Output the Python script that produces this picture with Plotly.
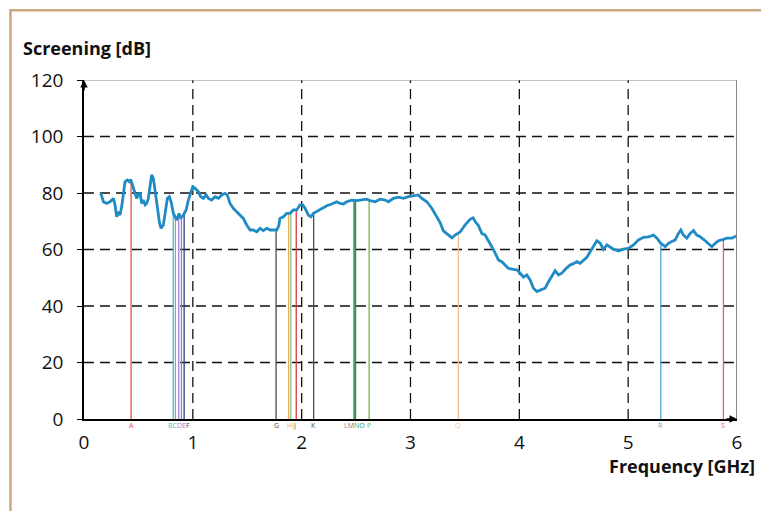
import numpy as np
import plotly.graph_objects as go

# Measured screening attenuation versus frequency
FREQ_GHZ = [
    0.147, 0.16, 0.178, 0.208, 0.239, 0.27, 0.285, 0.30, 0.315, 0.331, 0.346, 0.361,
    0.377, 0.398, 0.416, 0.429, 0.447, 0.469, 0.484, 0.499, 0.515, 0.53, 0.545, 0.561,
    0.576, 0.591, 0.607, 0.622, 0.637, 0.653, 0.674, 0.692, 0.708, 0.729, 0.744, 0.766,
    0.784, 0.80, 0.821, 0.852, 0.873, 0.888, 0.913, 0.938, 0.959, 0.98, 0.999, 1.02,
    1.05, 1.072, 1.097, 1.121, 1.143, 1.173, 1.204, 1.235, 1.265, 1.296, 1.317, 1.342,
    1.372, 1.403, 1.434, 1.464, 1.495, 1.526, 1.556, 1.587, 1.618, 1.648, 1.679, 1.71,
    1.74, 1.771, 1.79, 1.80, 1.832, 1.863, 1.893, 1.924, 1.955, 1.985, 2.01, 2.031,
    2.062, 2.084, 2.108, 2.14, 2.185, 2.231, 2.277, 2.322, 2.353, 2.383, 2.414, 2.46,
    2.506, 2.552, 2.598, 2.629, 2.675, 2.72, 2.767, 2.797, 2.843, 2.889, 2.935, 2.98,
    3.027, 3.073, 3.104, 3.15, 3.196, 3.242, 3.272, 3.302, 3.348, 3.382, 3.41, 3.456,
    3.502, 3.548, 3.575, 3.596, 3.624, 3.655, 3.686, 3.716, 3.747, 3.778, 3.808, 3.839,
    3.869, 3.90, 3.946, 3.983, 4.007, 4.038, 4.069, 4.099, 4.13, 4.161, 4.197, 4.237,
    4.268, 4.299, 4.329, 4.36, 4.39, 4.436, 4.467, 4.497, 4.528, 4.559, 4.589, 4.62,
    4.651, 4.681, 4.712, 4.743, 4.773, 4.804, 4.834, 4.865, 4.911, 4.957, 5.003, 5.049,
    5.095, 5.141, 5.187, 5.233, 5.264, 5.30, 5.34, 5.37, 5.401, 5.432, 5.462, 5.484,
    5.508, 5.539, 5.57, 5.60, 5.631, 5.662, 5.708, 5.738, 5.769, 5.80, 5.83, 5.876,
    5.907, 5.953, 5.993,
]
SCREENING_DB = [
    79.9, 79.3, 76.9, 76.3, 76.9, 78.1, 75.8, 71.6, 73.4, 72.2, 75.1, 78.7,
    84.0, 84.6, 84.0, 84.8, 82.8, 79.9, 78.1, 79.3, 80.2, 76.3, 77.5, 75.8,
    76.3, 78.1, 83.4, 86.4, 85.2, 79.9, 75.1, 69.8, 67.5, 68.7, 72.8, 78.1,
    78.7, 76.9, 72.8, 70.4, 72.8, 71.0, 72.2, 74.0, 77.5, 79.9, 82.2, 81.7,
    80.5, 78.7, 78.1, 79.3, 78.1, 77.5, 78.7, 78.1, 79.3, 79.9, 79.3, 76.3,
    74.6, 73.4, 72.2, 71.0, 68.7, 66.9, 66.9, 66.3, 67.5, 66.7, 67.5, 66.9,
    66.9, 66.9, 68.5, 71.0, 71.6, 72.8, 72.8, 74.0, 74.0, 75.8, 75.8, 74.6,
    72.2, 71.6, 72.8, 73.5, 74.5, 75.5, 76.1, 76.9, 76.3, 76.1, 76.9, 77.5,
    77.3, 77.5, 77.8, 77.3, 76.9, 77.8, 77.5, 76.9, 78.1, 78.5, 78.1, 78.7,
    79.1, 79.3, 78.1, 76.9, 74.6, 71.6, 69.5, 66.6, 65.1, 64.1, 65.1, 66.2,
    68.7, 70.7, 71.2, 69.8, 68.5, 65.7, 65.1, 62.8, 61.0, 58.7, 56.3, 55.7,
    54.5, 53.3, 53.0, 52.7, 51.6, 50.2, 51.0, 49.2, 46.3, 45.1, 45.7, 46.3,
    48.6, 50.4, 52.5, 51.0, 51.6, 53.5, 54.5, 55.0, 55.7, 55.1, 56.3, 57.2,
    59.2, 61.0, 63.1, 62.2, 60.0, 61.6, 61.0, 60.1, 59.5, 60.1, 60.4, 61.6,
    63.4, 64.3, 64.5, 65.1, 64.0, 62.2, 61.0, 62.2, 62.8, 63.4, 65.7, 66.9,
    65.1, 64.0, 65.7, 66.7, 65.1, 64.5, 63.1, 62.2, 61.0, 62.2, 63.1, 63.6,
    64.0, 64.0, 64.8,
]

# Frequency markers (service bands) drawn as coloured drop lines
MARKER_LABELS = ["A", "B", "C", "D", "E", "F", "G", "H", "I", "J",
                 "K", "L", "M", "N", "O", "P", "Q", "R", "S"]
MARKER_FREQS = [0.433, 0.82, 0.84, 0.87, 0.895, 0.92, 1.765, 1.88, 1.9, 1.95,
                2.11, 2.48, 2.485, 2.49, 2.495, 2.62, 3.44, 5.30, 5.875]
MARKER_COLORS = ["#ec4b4f", "#4fb3e3", "#6cc36a", "#b47ad6", "#7a86d8", "#2e3f86",
                 "#4d4d4d", "#f6a35a", "#6fcb8e", "#e3373b", "#4a4a4a", "#8a8a8a",
                 "#7d7d7d", "#2fa865", "#24965a", "#7fb04a", "#f8bd92", "#4aa8db",
                 "#ee5a5e"]

X_TICKS = [0, 1, 2, 3, 4, 5, 6]
Y_TICKS = [0, 20, 40, 60, 80, 100, 120]

X_RANGE = [X_TICKS[0], X_TICKS[-1]]
Y_RANGE = [Y_TICKS[0], Y_TICKS[-1]]

fig = go.Figure()

# Drop lines from the axis up to the measured curve
marker_tops = np.interp(MARKER_FREQS, FREQ_GHZ, SCREENING_DB)
for f, top, col in zip(MARKER_FREQS, marker_tops, MARKER_COLORS):
    fig.add_trace(go.Scatter(
        x=[f, f], y=[0, float(top)], mode="lines",
        line=dict(color=col, width=1.3),
        hoverinfo="skip", showlegend=False,
    ))

# Measured curve
fig.add_trace(go.Scatter(
    x=FREQ_GHZ, y=SCREENING_DB, mode="lines",
    line=dict(color="#1f8bc4", width=2.8),
    showlegend=False,
))

# Dashed grid on the interior ticks
shapes = []
dash = "10px,6px"
for xv in X_TICKS[1:-1]:
    shapes.append(dict(type="line", xref="x", yref="y", x0=xv, x1=xv,
                       y0=Y_RANGE[0], y1=Y_RANGE[1],
                       line=dict(color="#111111", width=1.3, dash=dash), layer="below"))
for yv in Y_TICKS[1:-1]:
    shapes.append(dict(type="line", xref="x", yref="y", x0=X_RANGE[0], x1=X_RANGE[1],
                       y0=yv, y1=yv,
                       line=dict(color="#111111", width=1.3, dash=dash), layer="below"))
# Top and right frame lines
shapes.append(dict(type="line", xref="x", yref="y", x0=X_RANGE[0], x1=X_RANGE[1],
                   y0=Y_RANGE[1], y1=Y_RANGE[1], line=dict(color="#8c8c8c", width=1)))
shapes.append(dict(type="line", xref="x", yref="y", x0=X_RANGE[1], x1=X_RANGE[1],
                   y0=Y_RANGE[0], y1=Y_RANGE[1], line=dict(color="#4a4a4a", width=1.3)))
# Outer tan page border
shapes.append(dict(type="rect", xref="paper", yref="paper",
                   x0=-0.1126, x1=1.06, y0=-0.35, y1=1.206,
                   line=dict(color="#c9a97f", width=2.5), layer="below"))

annotations = []
# Marker letters below the axis; close markers share one label
groups = []
for lab, f, col in zip(MARKER_LABELS, MARKER_FREQS, MARKER_COLORS):
    if groups and f - groups[-1][-1][1] < 0.06:
        groups[-1].append((lab, f, col))
    else:
        groups.append([(lab, f, col)])
for g in groups:
    text = "".join(f"<span style='color:{c}'>{l}</span>" for l, _, c in g)
    xc = float(np.mean([f for _, f, _ in g]))
    annotations.append(dict(x=xc, y=0, xref="x", yref="y", text=text, showarrow=False,
                            yanchor="top", yshift=-1, borderpad=0,
                            font=dict(family="Open Sans", size=7)))

# Axis arrows
annotations.append(dict(x=X_RANGE[0], y=Y_RANGE[1], xref="x", yref="y", ax=0, ay=12,
                        showarrow=True, arrowhead=2, arrowsize=1, arrowwidth=1.5,
                        arrowcolor="#000000", text=""))
annotations.append(dict(x=X_RANGE[1], y=Y_RANGE[0], xref="x", yref="y", ax=-12, ay=0,
                        showarrow=True, arrowhead=2, arrowsize=1, arrowwidth=1.5,
                        arrowcolor="#000000", text=""))

# Axis titles
annotations.append(dict(x=-0.097, y=1.054, xref="paper", yref="paper",
                        text="<b>Screening [dB]</b>", showarrow=False,
                        xanchor="left", yanchor="bottom",
                        font=dict(family="Open Sans", size=18, color="#111111")))
annotations.append(dict(x=1.031, y=-0.097, xref="paper", yref="paper",
                        text="<b>Frequency [GHz]</b>", showarrow=False,
                        xanchor="right", yanchor="top",
                        font=dict(family="Open Sans", size=18, color="#111111")))

fig.update_layout(
    width=761, height=511,
    margin=dict(l=84, r=24, t=80, b=92),
    paper_bgcolor="white", plot_bgcolor="white",
    shapes=shapes, annotations=annotations,
    showlegend=False,
    xaxis=dict(range=X_RANGE, tickvals=X_TICKS, showgrid=False, zeroline=False,
               showline=True, linecolor="#000000", linewidth=1.5, ticks="",
               ticklabelstandoff=5,
               tickfont=dict(family="Open Sans", size=19, color="#111111")),
    yaxis=dict(range=Y_RANGE, tickvals=Y_TICKS, showgrid=False, zeroline=False,
               showline=True, linecolor="#000000", linewidth=1.5,
               ticks="outside", ticklen=5, tickcolor="#000000",
               ticklabelstandoff=10,
               tickfont=dict(family="Open Sans", size=19, color="#111111")),
)

fig.write_html("out.html")
